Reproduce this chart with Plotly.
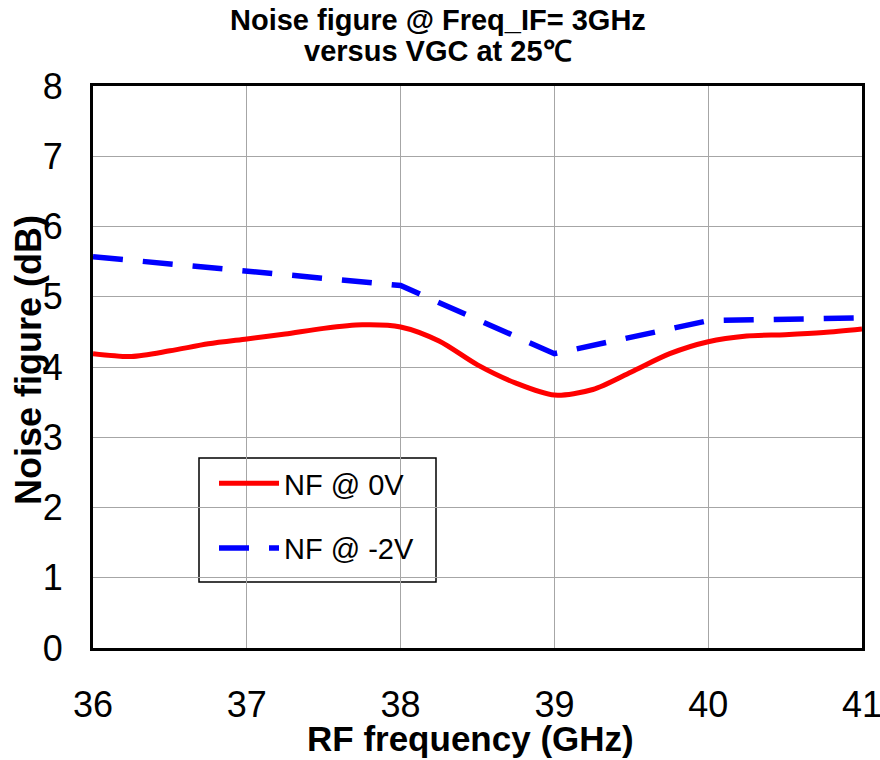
import plotly.graph_objects as go

freq_0v = [36.0, 36.25, 36.5, 36.75, 37.0, 37.25, 37.5, 37.75, 38.0, 38.25, 38.5,
           38.75, 39.0, 39.25, 39.5, 39.75, 40.0, 40.25, 40.5, 40.75, 41.0]
nf_0v = [4.19, 4.15, 4.23, 4.33, 4.40, 4.47, 4.55, 4.60, 4.57, 4.37, 4.03,
         3.77, 3.60, 3.68, 3.93, 4.19, 4.36, 4.44, 4.46, 4.49, 4.54]

freq_m2v = [36, 37, 38, 39, 40, 41]
nf_m2v = [5.57, 5.37, 5.16, 4.19, 4.66, 4.70]

x_ticks = [36, 37, 38, 39, 40, 41]
y_ticks = [0, 1, 2, 3, 4, 5, 6, 7, 8]

FONT = "Liberation Sans, Arial, sans-serif"
L, R, T, B = 93, 862, 86, 648
PW, PH = R - L, B - T


def px(xp):
    return (xp - L) / PW


def py(yp):
    return (B - yp) / PH


fig = go.Figure()
fig.add_trace(go.Scatter(
    x=freq_0v, y=nf_0v, mode="lines", name="NF @ 0V",
    line=dict(color="#ff0000", width=5, shape="spline", smoothing=0.8),
    legendgroup="a",
))
fig.add_trace(go.Scatter(
    x=freq_m2v, y=nf_m2v, mode="lines", name="NF @ -2V",
    line=dict(color="#0000ff", width=5.5, dash="30px,20px"),
    legendgroup="b",
))

fig.update_layout(
    width=880, height=760,
    margin=dict(l=L, r=880 - R, t=T, b=760 - B, autoexpand=False),
    paper_bgcolor="white", plot_bgcolor="white",
    font=dict(family=FONT, color="black"),
    showlegend=True,
    legend=dict(
        x=px(214), y=py(458), xanchor="left", yanchor="top",
        bgcolor="rgba(0,0,0,0)", borderwidth=0,
        font=dict(size=29, family=FONT, color="black"),
        traceorder="grouped", tracegroupgap=24,
        itemwidth=60,
    ),
    shapes=[
        dict(type="rect", xref="paper", yref="paper",
             x0=px(199), x1=px(436), y0=py(582), y1=py(458),
             line=dict(color="black", width=1.5), fillcolor="white",
             layer="between"),
    ],
    xaxis=dict(
        range=[36, 41], tickvals=x_ticks, ticktext=[str(v) for v in x_ticks],
        showgrid=True, gridcolor="#a6a6a6", gridwidth=1,
        showline=True, linecolor="black", linewidth=3, mirror=True,
        ticks="", tickfont=dict(size=36, family=FONT),
        ticklabelstandoff=23, zeroline=False, ticklabeloverflow="allow",
    ),
    yaxis=dict(
        range=[0, 8], tickvals=y_ticks, ticktext=[str(v) for v in y_ticks],
        showgrid=True, gridcolor="#a6a6a6", gridwidth=1,
        showline=True, linecolor="black", linewidth=3, mirror=True,
        ticks="", tickfont=dict(size=36, family=FONT),
        ticklabelstandoff=20, zeroline=False, ticklabeloverflow="allow",
    ),
    annotations=[
        dict(text="<b>Noise figure @ Freq_IF= 3GHz</b>",
             xref="paper", yref="paper", x=px(438), y=py(20),
             xanchor="center", yanchor="middle", showarrow=False,
             font=dict(size=29, family=FONT, color="black")),
        dict(text="<b>versus VGC at 25\u2103</b>",
             xref="paper", yref="paper", x=px(438), y=py(51),
             xanchor="center", yanchor="middle", showarrow=False,
             font=dict(size=29, family=FONT, color="black")),
        dict(text="<b>RF frequency (GHz)</b>",
             xref="paper", yref="paper", x=px(470), y=py(738),
             xanchor="center", yanchor="middle", showarrow=False,
             font=dict(size=35, family=FONT, color="black")),
        dict(text="<b>Noise figure (dB)</b>", textangle=-90,
             xref="paper", yref="paper", x=px(28), y=py(360),
             xanchor="center", yanchor="middle", showarrow=False,
             font=dict(size=36, family=FONT, color="black")),
    ],
)

fig.write_html("out.html", config={"displayModeBar": False},
               post_script="document.body.style.margin='0';")
